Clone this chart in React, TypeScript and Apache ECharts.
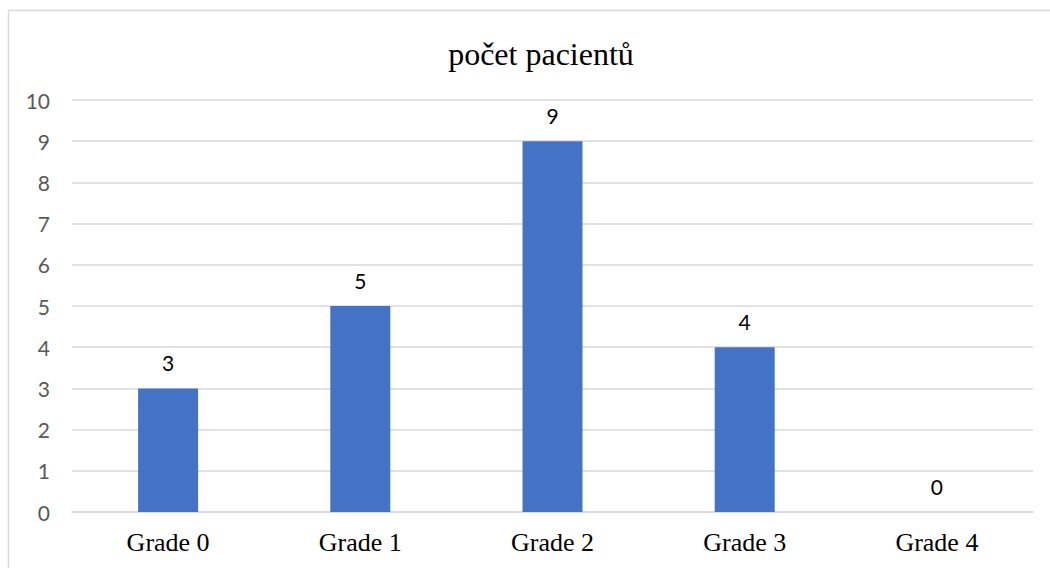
import React, { useEffect, useRef } from "react";
import * as echarts from "echarts";

const categories = ["Grade 0", "Grade 1", "Grade 2", "Grade 3", "Grade 4"];
const values = [3, 5, 9, 4, 0];
const titleText = "počet pacientů";

export default function App() {
  const ref = useRef<HTMLDivElement>(null);
  useEffect(() => {
    if (!ref.current) return;
    const chart = echarts.init(ref.current, null, { renderer: "svg" });
    chart.setOption({
      animation: false,
      title: {
        text: titleText,
        left: 536,
        textAlign: "center",
        top: 33,
        textStyle: { fontFamily: "Liberation Serif", fontSize: 32, fontWeight: "normal", color: "#000" },
      },
      graphic: [
        {
          type: "rect",
          shape: { x: 8.5, y: 10.5, width: 1100, height: 600 },
          style: { fill: "none", stroke: "#d9d9d9", lineWidth: 1.5 },
          silent: true,
        },
      ],
      grid: { left: 72, right: 17, top: 100, bottom: 56 },
      xAxis: {
        type: "category",
        data: categories,
        axisLine: { show: true, lineStyle: { color: "#d9d9d9", width: 1.5 } },
        axisTick: { show: false },
        axisLabel: { fontFamily: "Liberation Serif", fontSize: 26, color: "#000", margin: 17 },
      },
      yAxis: {
        type: "value",
        min: 0,
        max: 10,
        interval: 1,
        axisLine: { show: false },
        axisTick: { show: false },
        splitLine: { lineStyle: { color: "#d9d9d9", width: 1.5 } },
        axisLabel: { fontFamily: "Lato", fontSize: 21, color: "#595959", margin: 22 },
      },
      series: [
        {
          type: "bar",
          data: values,
          barWidth: 60,
          itemStyle: { color: "#4472c4" },
          label: {
            show: true,
            position: "top",
            distance: 15,
            fontFamily: "Lato",
            fontSize: 21,
            color: "#000",
          },
        },
      ],
    });
    return () => chart.dispose();
  }, []);
  return (
    <div
      ref={ref}
      style={{ position: "fixed", left: 0, top: 0, width: 1050, height: 568, background: "#fff" }}
    />
  );
}
